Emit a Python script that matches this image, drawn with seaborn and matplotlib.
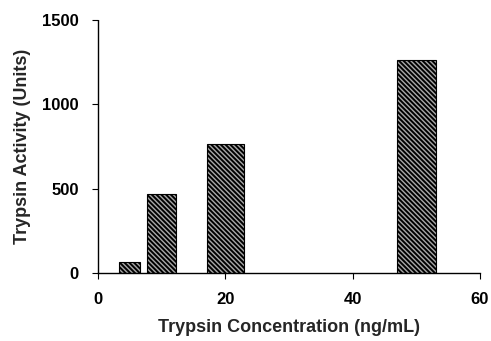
import matplotlib
matplotlib.use("Agg")
import matplotlib.pyplot as plt
import seaborn as sns
import pandas as pd

# Data
concentration = [5, 10, 20, 50]          # ng/mL
activity = [65, 467, 763, 1265]          # Units
x_ticks = [0, 20, 40, 60]
y_ticks = [0, 500, 1000, 1500]
x_label = "Trypsin Concentration (ng/mL)"
y_label = "Trypsin Activity (Units)"

# style: individual bar widths as drawn in the reference (in x units)
bar_widths = [3.3, 4.6, 5.8, 6.1]

sns.set_theme(style="ticks")
plt.rcParams['font.family'] = ['Liberation Sans', 'DejaVu Sans']
plt.rcParams['hatch.linewidth'] = 1.4
plt.rcParams['hatch.color'] = 'black'

fig = plt.figure(figsize=(4.91, 3.41), dpi=100)
ax = fig.add_axes([98/491, 1 - 273/341, (480 - 98)/491, (273 - 20)/341])

df = pd.DataFrame({"conc": concentration, "act": activity})
sns.barplot(data=df, x="conc", y="act", native_scale=True, ax=ax,
            color="#9a9a9a", edgecolor="black", linewidth=0.8,
            hatch="\\" * 7, saturation=1)

for p, w, c in zip(ax.patches, bar_widths, concentration):
    p.set_x(c - w / 2)
    p.set_width(w)
    p.set_facecolor("#a8a8a8")
    p.set_edgecolor("black")

ax.set_xlim(0, 60)
ax.set_ylim(0, 1500)
ax.set_xticks(x_ticks)
ax.set_yticks(y_ticks)
ax.set_xticklabels([str(t) for t in x_ticks], fontsize=12, fontweight="bold")
ax.set_yticklabels([str(t) for t in y_ticks], fontsize=12, fontweight="bold")
ax.set_xlabel(x_label, fontsize=13, fontweight="bold", labelpad=8)
ax.set_ylabel(y_label, fontsize=13, fontweight="bold", labelpad=8)

sns.despine(ax=ax)
for s in ["left", "bottom"]:
    ax.spines[s].set_linestyle((0, (2, 1)))
    ax.spines[s].set_linewidth(1.0)
    ax.spines[s].set_color("black")
ax.tick_params(axis="both", direction="out", length=4, width=0.8, colors="black", pad=10)

fig.savefig("out.png", dpi=100)
